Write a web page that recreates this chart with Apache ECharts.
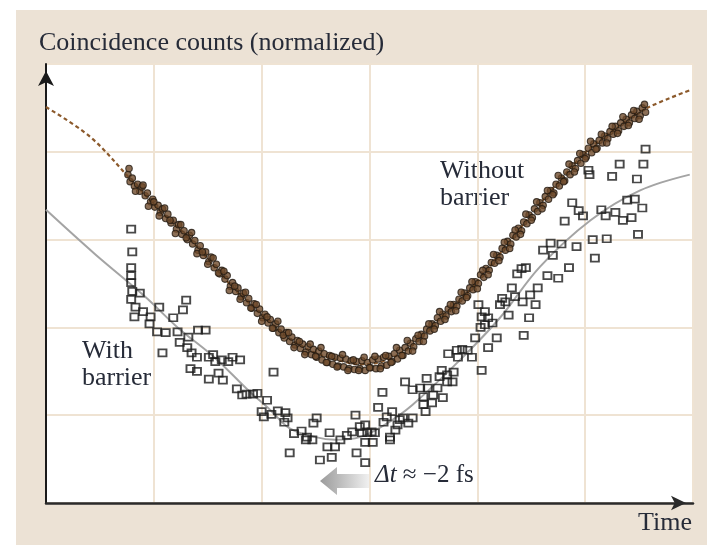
<!DOCTYPE html>
<html>
<head>
<meta charset="utf-8">
<script src="https://cdn.jsdelivr.net/npm/echarts/dist/echarts.min.js"></script>
<style>
  html, body { margin: 0; padding: 0; background: #ffffff; }
  #chart { width: 707px; height: 545px; }
</style>
</head>
<body>
<div id="chart"></div>
<script>
// Coincidence counts vs. time delay, with and without the tunnelling barrier.
// x: time delay (grid units), y: normalized coincidence counts (grid units).

// Measured points without barrier (filled dots)
const withoutBarrier = [
  [0.76,3.74],[0.78,3.66],[0.80,3.70],[0.82,3.61],[0.85,3.63],[0.87,3.55],[0.89,3.60],[0.92,3.50],[0.94,3.53],[0.97,3.43],
  [0.99,3.46],[1.01,3.37],[1.04,3.39],[1.06,3.31],[1.08,3.35],[1.11,3.24],[1.13,3.29],[1.16,3.19],[1.18,3.22],[1.21,3.12],
  [1.23,3.17],[1.26,3.06],[1.28,3.10],[1.31,3.00],[1.33,3.05],[1.36,2.95],[1.38,2.99],[1.41,2.88],[1.43,2.93],[1.46,2.82],
  [1.48,2.86],[1.51,2.75],[1.53,2.80],[1.56,2.68],[1.58,2.72],[1.61,2.61],[1.63,2.65],[1.66,2.55],[1.68,2.59],[1.71,2.47],
  [1.73,2.51],[1.76,2.41],[1.78,2.45],[1.81,2.35],[1.83,2.39],[1.86,2.28],[1.88,2.33],[1.91,2.22],[1.93,2.27],[1.96,2.16],
  [1.98,2.21],[2.01,2.11],[2.03,2.15],[2.06,2.05],[2.08,2.09],[2.11,1.99],[2.13,2.04],[2.16,1.94],[2.18,1.98],[2.21,1.88],
  [2.23,1.94],[2.26,1.84],[2.28,1.89],[2.31,1.80],[2.33,1.85],[2.36,1.76],[2.38,1.81],[2.41,1.72],[2.43,1.78],[2.46,1.69],
  [2.48,1.75],[2.51,1.66],[2.53,1.73],[2.56,1.63],[2.58,1.70],[2.61,1.60],[2.63,1.68],[2.66,1.58],[2.68,1.66],[2.71,1.56],
  [2.73,1.65],[2.76,1.55],[2.78,1.64],[2.81,1.53],[2.83,1.62],[2.86,1.52],[2.88,1.61],[2.91,1.53],[2.93,1.62],[2.96,1.51],
  [2.98,1.60],[3.01,1.54],[3.03,1.63],[3.06,1.53],[3.08,1.64],[3.11,1.56],[3.13,1.66],[3.16,1.57],[3.18,1.67],[3.21,1.61],
  [3.23,1.70],[3.26,1.64],[3.28,1.74],[3.31,1.68],[3.33,1.77],[3.36,1.73],[3.38,1.82],[3.41,1.78],[3.43,1.87],[3.46,1.84],
  [3.48,1.92],[3.51,1.90],[3.53,1.98],[3.56,1.96],[3.58,2.04],[3.61,2.02],[3.63,2.11],[3.66,2.07],[3.68,2.15],[3.71,2.13],
  [3.73,2.21],[3.76,2.18],[3.78,2.26],[3.81,2.24],[3.83,2.32],[3.86,2.30],[3.88,2.39],[3.91,2.36],[3.93,2.45],[3.96,2.43],
  [3.98,2.52],[4.01,2.50],[4.03,2.60],[4.06,2.57],[4.08,2.67],[4.11,2.65],[4.13,2.74],[4.16,2.73],[4.18,2.82],[4.21,2.80],
  [4.23,2.90],[4.26,2.88],[4.28,2.98],[4.31,2.95],[4.33,3.05],[4.36,3.03],[4.38,3.13],[4.41,3.10],[4.43,3.20],[4.46,3.18],
  [4.48,3.28],[4.51,3.25],[4.53,3.35],[4.56,3.32],[4.58,3.42],[4.61,3.39],[4.63,3.49],[4.66,3.46],[4.68,3.56],[4.71,3.53],
  [4.73,3.63],[4.76,3.61],[4.78,3.70],[4.81,3.67],[4.83,3.77],[4.86,3.74],[4.88,3.84],[4.91,3.81],[4.93,3.90],[4.96,3.87],
  [4.98,3.97],[5.01,3.94],[5.03,4.04],[5.06,3.99],[5.08,4.09],[5.11,4.04],[5.13,4.13],[5.16,4.10],[5.18,4.18],[5.21,4.15],
  [5.23,4.23],[5.26,4.20],[5.28,4.29],[5.31,4.24],[5.33,4.33],[5.36,4.29],[5.38,4.37],[5.41,4.33],[5.43,4.42],[5.46,4.38],
  [5.48,4.46],[5.51,4.41],[5.53,4.50],[5.56,4.45],
  [0.77,3.81],[0.83,3.55],[0.90,3.62],[0.95,3.38],[1.00,3.43],[1.05,3.27],[1.10,3.36],[1.15,3.22],[1.20,3.07],[1.25,3.17],
  [1.30,3.02],[1.35,3.08],[1.40,2.84],[1.45,2.86],[1.50,2.72],[1.55,2.79],[1.60,2.62],[1.65,2.64],[1.70,2.42],[1.75,2.47],
  [1.80,2.32],[1.85,2.40],[1.90,2.22],[1.95,2.26],[2.00,2.07],[2.05,2.12],[2.10,1.99],[2.15,2.07],[2.20,1.91],[2.25,1.94],
  [2.30,1.77],[2.35,1.84],[2.40,1.69],[2.45,1.81],[2.50,1.67],[2.55,1.77],[2.60,1.60],[2.65,1.67],[2.70,1.55],[2.75,1.69],
  [2.80,1.51],[2.85,1.63],[2.90,1.51],[2.95,1.66],[3.00,1.54],[3.05,1.67],[3.10,1.53],[3.15,1.68],[3.20,1.60],[3.25,1.77],
  [3.30,1.68],[3.35,1.85],[3.40,1.73],[3.45,1.91],[3.50,1.84],[3.55,2.04],[3.60,1.98],[3.65,2.18],[3.70,2.09],[3.75,2.26],
  [3.80,2.19],[3.85,2.40],[3.90,2.34],[3.95,2.52],[4.00,2.44],[4.05,2.65],[4.10,2.60],[4.15,2.83],[4.20,2.76],[4.25,2.97],
  [4.30,2.90],[4.35,3.11],[4.40,3.06],[4.45,3.29],[4.50,3.22],[4.55,3.43],[4.60,3.35],[4.65,3.56],[4.70,3.51],[4.75,3.73],
  [4.80,3.66],[4.85,3.86],[4.90,3.77],[4.95,3.98],[5.00,3.92],[5.05,4.12],[5.10,4.03],[5.15,4.20],[5.20,4.10],[5.25,4.29],
  [5.30,4.21],[5.35,4.40],[5.40,4.30],[5.45,4.47],[5.50,4.37],[5.55,4.54]
];

// Measured points with barrier (open squares)
const withBarrier = [
  [0.79,3.12],[0.80,2.86],[0.79,2.68],[0.79,2.59],[0.79,2.51],[0.80,2.41],[0.87,2.39],[0.79,2.32],[0.83,2.23],[0.90,2.18],
  [0.82,2.12],[0.97,2.12],[0.96,2.04],[1.05,2.23],[1.18,2.11],[1.30,2.31],[1.27,2.20],[1.03,1.95],[1.11,1.94],[1.22,1.95],
  [1.41,1.97],[1.48,1.97],[1.32,1.89],[1.08,1.71],[1.24,1.83],[1.31,1.77],[1.35,1.71],[1.40,1.66],[1.34,1.53],[1.40,1.50],
  [1.51,1.66],[1.55,1.69],[1.57,1.61],[1.63,1.63],[1.69,1.61],[1.73,1.66],[1.80,1.63],[1.60,1.48],[1.51,1.41],[1.64,1.40],
  [2.11,1.49],[1.77,1.30],[1.82,1.23],[1.86,1.24],[1.92,1.24],[1.96,1.25],[2.05,1.17],[2.00,1.04],[2.02,0.98],[2.09,1.01],
  [2.15,1.05],[2.22,1.03],[2.24,0.97],[2.21,0.92],[2.30,0.79],[2.26,0.57],[2.37,0.82],[2.41,0.72],[2.47,0.72],[2.51,0.97],
  [2.48,0.91],[2.54,0.49],[2.63,0.80],[2.61,0.64],[2.68,0.64],[2.65,0.52],[2.73,0.72],[2.79,0.77],[2.84,0.81],[2.87,1.00],
  [2.88,0.57],[2.91,0.87],[2.96,0.89],[2.93,0.80],[2.98,0.80],[3.02,0.81],[3.05,0.80],[2.96,0.69],[3.03,0.69],[2.96,0.46],
  [3.12,1.26],[3.08,1.09],[3.16,0.98],[3.21,1.04],[3.13,0.92],[3.19,0.72],[3.24,0.83],[3.28,0.95],[3.26,0.89],[3.31,0.97],
  [3.36,0.91],[3.40,0.97],[3.33,1.38],[3.40,1.29],[3.47,1.31],[3.53,1.42],[3.54,1.31],[3.50,1.21],[3.50,1.12],[3.52,1.04],
  [3.59,1.23],[3.58,1.14],[3.63,1.31],[3.68,1.20],[3.65,1.44],[3.67,1.51],[3.72,1.46],[3.78,1.49],[3.72,1.38],[3.77,1.38],
  [3.73,1.70],[3.81,1.74],[3.82,1.66],[3.86,1.75],[3.91,1.74],[3.95,1.66],[3.98,1.88],[4.04,1.51],[4.10,1.77],[4.18,1.88],
  [4.01,2.26],[4.07,2.18],[4.04,2.12],[4.10,2.11],[4.07,2.03],[4.03,2.00],[4.14,2.05],[4.23,2.33],[4.21,2.26],[4.26,2.29],
  [4.29,2.14],[4.32,2.45],[4.35,2.35],[4.42,2.29],[4.37,2.61],[4.41,2.67],[4.45,2.68],[4.49,2.37],[4.54,2.26],[4.56,2.45],
  [4.48,2.11],[4.43,1.91],[4.65,2.59],[4.61,2.88],[4.68,2.96],[4.70,2.82],[4.75,2.56],[4.78,2.95],[4.81,3.21],[4.85,2.68],
  [4.88,3.42],[4.94,3.33],[4.98,3.27],[4.92,2.92],[5.03,3.79],[5.04,3.74],[5.07,3.00],[5.09,2.79],[5.15,3.34],[5.19,3.27],
  [5.20,3.01],[5.28,3.31],[5.35,3.22],[5.43,3.25],[5.39,3.45],[5.46,3.46],[5.53,3.36],[5.49,3.06],[5.25,3.72],[5.48,3.69],
  [5.32,3.86],[5.54,3.86],[5.56,4.03],[2.42,0.75],[3.19,0.75]
];

// Fitted curve without barrier (dashed)
const fitWithout = [
  [0,4.51],[0.41,4.17],[0.79,3.68],[1.08,3.30],[1.34,3.00],[1.73,2.46],[1.97,2.18],[2.24,1.89],[2.48,1.72],[2.73,1.62],
  [2.91,1.58],[3.14,1.62],[3.40,1.80],[3.63,2.08],[3.84,2.31],[4.03,2.56],[4.21,2.84],[4.49,3.27],[4.74,3.64],[5.01,4.00],
  [5.30,4.28],[5.54,4.48],[5.97,4.70]
];

// Fitted curve with barrier (solid grey)
const fitWith = [
  [0,3.34],[0.45,2.84],[0.92,2.35],[1.22,2.00],[1.57,1.65],[1.87,1.29],[2.08,1.06],[2.26,0.85],[2.50,0.75],[2.68,0.72],
  [2.91,0.75],[3.14,0.89],[3.40,1.12],[3.84,1.63],[4.21,2.11],[4.58,2.69],[5.05,3.22],[5.51,3.56],[5.97,3.74]
];

const textLabels = {
  yTitle: 'Coincidence counts (normalized)',
  xTitle: 'Time',
  without: 'Without\nbarrier',
  with: 'With\nbarrier',
  shift: '{i|Δt} ≈ −2 fs'
};

const SERIF = '"Liberation Serif", "DejaVu Serif", serif';
const TEXT_COLOR = '#262b38';

const chart = echarts.init(document.getElementById('chart'), null, { renderer: 'canvas' });

chart.setOption({
  animation: false,
  backgroundColor: '#ece2d5',
  grid: {
    left: 46, right: 14, top: 64, bottom: 42,
    show: true, backgroundColor: '#ffffff', borderWidth: 0
  },
  xAxis: {
    type: 'value', min: 0, max: 6, interval: 1,
    axisLabel: { show: false }, axisTick: { show: false },
    splitLine: { show: true, lineStyle: { color: '#efe3d3', width: 2 } },
    axisLine: {
      show: true, onZero: false,
      symbol: ['none', 'arrow'], symbolSize: [11, 15], symbolOffset: [0, -7],
      lineStyle: { color: '#2a2a2a', width: 2.5 }
    }
  },
  yAxis: {
    type: 'value', min: 0, max: 5, interval: 1,
    axisLabel: { show: false }, axisTick: { show: false },
    splitLine: { show: true, lineStyle: { color: '#efe3d3', width: 2 } },
    axisLine: {
      show: true, onZero: false,
      symbol: ['none', 'arrow'], symbolSize: [12, 15], symbolOffset: [0, -7],
      lineStyle: { color: '#1a1a1a', width: 2 }
    }
  },
  series: [
    {
      name: 'fit with barrier', type: 'line', data: fitWith, smooth: 0.35,
      showSymbol: false, silent: true, z: 2,
      lineStyle: { color: '#a4a4a4', width: 2 }
    },
    {
      name: 'fit without barrier', type: 'line', data: fitWithout, smooth: 0.35,
      showSymbol: false, silent: true, z: 2,
      lineStyle: { color: '#8c5a2c', width: 2.2, type: [4, 3] }
    },
    {
      name: 'with barrier', type: 'scatter', data: withBarrier,
      symbol: 'rect', symbolSize: [8, 7], z: 3,
      itemStyle: { color: 'rgba(255,255,255,0)', borderColor: '#1c1c1c', borderWidth: 1.8 }
    },
    {
      name: 'without barrier', type: 'scatter', data: withoutBarrier,
      symbol: 'circle', symbolSize: 6.5, z: 4,
      itemStyle: { color: '#6e4a2a', borderColor: '#231a12', borderWidth: 1.1 }
    }
  ],
  graphic: [
    { type: 'rect', shape: { x: 0, y: 0, width: 707, height: 10 }, style: { fill: '#ffffff' }, silent: true },
    { type: 'rect', shape: { x: 0, y: 0, width: 16, height: 545 }, style: { fill: '#ffffff' }, silent: true },
    {
      type: 'text', left: 39, top: 30,
      style: { text: textLabels.yTitle, font: '26px ' + SERIF, fill: TEXT_COLOR }
    },
    {
      type: 'text', right: 15, top: 510,
      style: { text: textLabels.xTitle, font: '26px ' + SERIF, fill: TEXT_COLOR }
    },
    {
      type: 'text', left: 440, top: 158,
      style: { text: textLabels.without, font: '26px ' + SERIF, fill: TEXT_COLOR, lineHeight: 27 }
    },
    {
      type: 'text', left: 82, top: 338,
      style: { text: textLabels.with, font: '26px ' + SERIF, fill: TEXT_COLOR, lineHeight: 27 }
    },
    {
      type: 'text', left: 375, top: 463,
      style: {
        text: textLabels.shift, font: '25px ' + SERIF, fill: TEXT_COLOR,
        rich: { i: { fontStyle: 'italic', font: 'italic 25px ' + SERIF, fill: TEXT_COLOR } }
      }
    },
    {
      type: 'polygon', silent: true,
      shape: { points: [[320, 481], [337, 467], [337, 474], [370, 474], [370, 488], [337, 488], [337, 495]] },
      style: {
        fill: new echarts.graphic.LinearGradient(0, 0, 1, 0, [
          { offset: 0, color: '#9b9b9b' },
          { offset: 0.35, color: '#b8b8b8' },
          { offset: 1, color: '#f2f2f2' }
        ])
      }
    }
  ]
});
</script>
</body>
</html>
